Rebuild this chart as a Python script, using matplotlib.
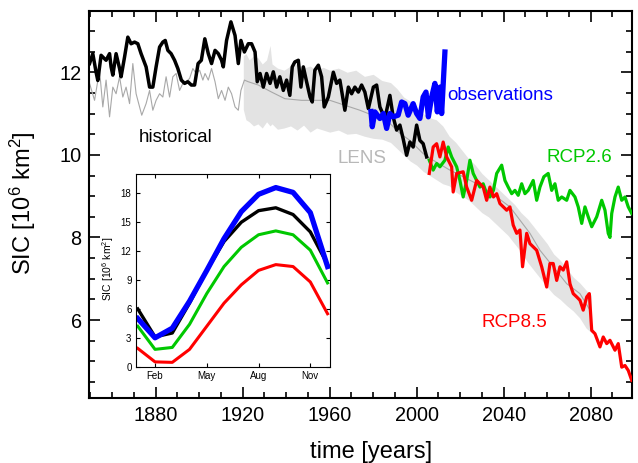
import matplotlib
matplotlib.use('Agg')
import matplotlib.pyplot as plt
from matplotlib.ticker import MultipleLocator, FixedLocator

plt.rcParams['font.family'] = ['Liberation Sans', 'DejaVu Sans']
plt.rcParams['mathtext.fontset'] = 'custom'
plt.rcParams['mathtext.rm'] = 'Liberation Sans'
plt.rcParams['mathtext.it'] = 'Liberation Sans:italic'
plt.rcParams['mathtext.bf'] = 'Liberation Sans:bold'

# ---------------- data ----------------
hist_years = [1849.6, 1851.1, 1852.6, 1853.4, 1854.9, 1857.2, 1858.8, 1859.5, 1860.3, 1861.8,
              1863.4, 1864.1, 1865.7, 1867.2, 1868.7, 1870.3, 1871.8, 1873.3, 1875.6, 1877.2,
              1878.7, 1880.2, 1881.8, 1883.3, 1884.4, 1885.6, 1887.1, 1888.7, 1890.2, 1891.8,
              1893.3, 1894.8, 1896.4, 1897.9, 1899.5, 1901.0, 1902.6, 1904.2, 1905.7, 1907.3,
              1908.8, 1910.3, 1911.1, 1912.6, 1914.6, 1916.5, 1918.0, 1919.2, 1920.8, 1922.6,
              1924.1, 1925.7, 1926.7, 1928.0, 1929.5, 1931.0, 1932.6, 1934.1, 1935.6, 1937.1,
              1938.7, 1940.2, 1941.7, 1942.8, 1944.0, 1945.6, 1946.8, 1947.9, 1949.4, 1951.0,
              1952.0, 1953.2, 1954.8, 1956.3, 1957.5, 1959.4, 1961.7, 1963.2, 1964.7, 1967.0,
              1968.6, 1970.1, 1971.6, 1973.2, 1974.7, 1976.2, 1977.8, 1980.1, 1981.6, 1983.1,
              1985.4, 1987.7, 1989.2, 1990.8, 1992.3, 1993.8, 1995.4, 1996.9, 1998.4, 2000.0,
              2001.5, 2003.0, 2004.6]
hist_sic = [12.21, 12.45, 12.00, 11.80, 12.41, 12.29, 12.45, 12.13, 11.93, 12.45,
            12.09, 11.89, 12.37, 12.85, 12.69, 12.73, 12.69, 12.45, 12.13, 11.64,
            11.64, 12.13, 12.61, 12.73, 12.77, 12.53, 12.45, 12.29, 12.09, 11.81,
            11.73, 11.77, 11.69, 11.69, 12.21, 12.29, 12.81, 12.45, 12.21, 12.53,
            12.45, 12.29, 12.13, 12.77, 13.22, 12.89, 12.21, 12.77, 12.49, 12.69,
            12.69, 12.49, 11.77, 11.97, 11.64, 11.97, 11.73, 12.01, 11.64, 11.89,
            11.56, 11.81, 11.44, 12.13, 12.25, 12.29, 11.64, 12.13, 11.77, 11.40,
            11.28, 12.05, 12.17, 11.89, 11.16, 11.40, 12.00, 11.73, 11.81, 11.08,
            11.64, 11.48, 11.64, 11.52, 11.69, 11.52, 11.12, 11.64, 11.69, 11.16,
            10.88, 11.44, 10.92, 10.60, 10.72, 10.39, 9.99, 10.31, 10.19, 10.72,
            10.35, 10.27, 9.95]

obs_years = [1979.0, 1979.6, 1980.8, 1983.1, 1984.7, 1986.2, 1987.7, 1989.2, 1991.5, 1993.1,
             1994.6, 1996.1, 1998.4, 2000.0, 2001.5, 2003.0, 2004.3, 2005.4, 2006.9, 2008.4,
             2009.5, 2010.7, 2011.5, 2013.0]
obs_sic = [11.05, 10.68, 11.04, 10.88, 11.00, 10.64, 11.00, 10.92, 10.96, 11.28,
           11.24, 10.96, 11.24, 11.00, 10.88, 11.40, 11.52, 10.92, 11.40, 11.73,
           11.04, 11.64, 11.00, 12.49]

lens_years = [1849.6, 1851.9, 1854.2, 1855.7, 1857.2, 1858.8, 1860.3, 1861.8, 1863.4, 1864.9,
              1866.4, 1868.0, 1869.5, 1871.0, 1872.6, 1873.6, 1875.6, 1877.2, 1878.7, 1880.2,
              1881.8, 1883.3, 1884.8, 1886.4, 1887.9, 1889.4, 1891.0, 1892.5, 1894.0, 1895.6,
              1897.1, 1898.6, 1900.2, 1901.7, 1902.7, 1904.2, 1905.7, 1907.3, 1908.8, 1910.3,
              1911.9, 1913.4, 1914.9, 1916.5, 1918.0, 1919.2, 1920.8, 1922.6, 1927.2, 1933.3,
              1939.4, 1947.1, 1954.8, 1960.1, 1967.0, 1973.9, 1981.6, 1986.2, 1992.3, 1996.9,
              2003.0, 2007.6, 2015.3, 2021.4, 2029.1, 2036.8, 2042.9, 2047.5, 2052.1, 2056.7,
              2062.8, 2069.0, 2075.1, 2079.7]
lens_sic = [11.73, 11.32, 12.05, 11.16, 11.81, 10.92, 11.64, 11.48, 11.89, 11.40,
            11.64, 11.24, 12.21, 11.48, 11.16, 10.96, 11.24, 11.56, 11.08, 11.32,
            11.48, 11.40, 11.89, 11.40, 11.89, 11.97, 11.56, 11.73, 11.77, 11.85,
            12.09, 11.97, 12.05, 11.81, 11.97, 11.81, 12.09, 11.77, 11.36, 11.56,
            11.32, 11.64, 11.48, 11.16, 11.08, 11.56, 11.81, 11.77, 11.69, 11.52,
            11.36, 11.32, 11.32, 11.32, 11.20, 11.08, 10.92, 10.84, 10.52, 10.35,
            10.03, 9.87, 9.63, 9.47, 9.26, 8.98, 8.74, 8.42, 8.10, 7.69,
            7.29, 6.88, 6.64, 6.24]

band_years = [1920.3, 1921.5, 1923, 1925, 1927, 1929, 1931, 1932.6, 1933.5, 1936,
              1939, 1942, 1945, 1948, 1951, 1954, 1957, 1960, 1964, 1968,
              1972, 1976, 1980, 1984, 1988, 1991, 1994, 1997, 2000, 2003,
              2006, 2009, 2012, 2015, 2018, 2021, 2024, 2027, 2030, 2033,
              2036, 2039, 2042, 2045, 2048, 2051, 2054, 2057, 2060, 2063,
              2066, 2069, 2072, 2075, 2078, 2080.3]
band_lo = [11.10, 10.85, 10.80, 10.70, 10.75, 10.65, 10.80, 10.70, 10.75, 10.62,
           10.65, 10.70, 10.60, 10.72, 10.55, 10.65, 10.60, 10.55, 10.60, 10.50,
           10.52, 10.45, 10.40, 10.38, 10.30, 10.15, 10.00, 9.85, 9.75, 9.60,
           9.50, 9.40, 9.30, 9.25, 9.10, 9.00, 8.90, 8.75, 8.60, 8.50,
           8.35, 8.20, 8.05, 7.85, 7.65, 7.40, 7.20, 7.00, 6.80, 6.62,
           6.50, 6.35, 6.22, 6.05, 5.80, 5.70]
band_hi = [12.40, 12.45, 12.30, 12.40, 12.35, 12.20, 12.30, 12.65, 12.20, 12.10,
           12.05, 12.15, 12.20, 12.10, 12.15, 12.05, 12.12, 12.05, 12.10, 12.00,
           12.05, 11.90, 11.95, 11.80, 11.75, 11.60, 11.40, 11.30, 11.15, 11.00,
           10.90, 10.85, 10.70, 10.45, 10.30, 10.10, 9.90, 9.75, 9.55, 9.40,
           9.25, 9.10, 8.95, 8.80, 8.60, 8.45, 8.25, 8.05, 7.85, 7.60,
           7.45, 7.25, 7.04, 6.90, 6.72, 6.60]

rcp85_years = [2005.8, 2007.6, 2009.2, 2010.7, 2012.2, 2013.8, 2016.1, 2016.8, 2018.4, 2021.4,
               2023.0, 2025.3, 2027.6, 2029.1, 2030.6, 2032.2, 2033.7, 2035.3, 2036.8, 2038.3,
               2041.4, 2042.9, 2044.4, 2046.0, 2047.5, 2048.7, 2050.6, 2052.1, 2055.2, 2057.5,
               2059.8, 2061.3, 2062.8, 2064.4, 2065.9, 2067.4, 2069.0, 2070.5, 2072.0, 2073.6,
               2075.1, 2076.6, 2078.2, 2079.4, 2080.5, 2082.0, 2084.3, 2085.8, 2087.4, 2088.9,
               2091.2, 2092.7, 2094.3, 2095.8, 2097.3, 2098.9]
rcp85_sic = [9.55, 10.19, 10.27, 9.95, 10.31, 9.95, 9.71, 9.10, 9.55, 9.59,
             9.22, 8.90, 9.38, 9.30, 9.22, 8.90, 9.22, 8.98, 9.06, 8.82,
             8.66, 8.74, 8.30, 8.10, 8.18, 7.29, 8.10, 7.85, 7.69, 7.29,
             6.80, 7.37, 7.37, 6.96, 7.29, 7.21, 7.41, 6.88, 6.64, 6.56,
             6.48, 6.24, 6.56, 6.64, 5.75, 5.67, 5.35, 5.59, 5.43, 5.51,
             5.27, 5.43, 4.86, 4.90, 4.78, 4.54]

rcp26_years = [2005.8, 2007.6, 2009.2, 2010.7, 2013.0, 2014.5, 2016.1, 2018.4, 2019.9, 2021.4,
               2023.0, 2024.5, 2026.0, 2027.6, 2029.1, 2030.6, 2032.2, 2033.7, 2035.3, 2036.8,
               2039.1, 2040.6, 2042.1, 2043.7, 2045.2, 2046.7, 2048.3, 2049.8, 2051.3, 2053.6,
               2055.2, 2056.7, 2058.5, 2060.5, 2062.1, 2063.6, 2065.1, 2066.7, 2069.0, 2070.5,
               2072.8, 2074.3, 2075.9, 2077.4, 2078.9, 2080.5, 2082.8, 2085.1, 2086.6, 2088.1,
               2088.9, 2089.7, 2091.2, 2092.7, 2094.3, 2095.8, 2097.3, 2098.9]
rcp26_sic = [9.87, 9.63, 9.79, 9.71, 9.87, 10.19, 9.95, 9.71, 9.38, 8.98,
             9.38, 9.87, 9.55, 9.38, 9.22, 9.30, 9.06, 8.98, 9.14, 9.55,
             9.75, 9.38, 9.22, 9.06, 9.14, 9.02, 9.30, 9.06, 9.14, 9.38,
             8.90, 9.22, 9.47, 9.55, 9.14, 9.30, 8.90, 8.98, 8.90, 9.14,
             8.98, 8.74, 8.34, 8.74, 8.50, 8.26, 8.50, 8.90, 8.66, 8.10,
             8.00, 8.58, 8.98, 9.22, 8.90, 8.98, 8.74, 8.58]

months = [1, 2, 3, 4, 5, 6, 7, 8, 9, 10, 11, 12]
clim_obs = [5.0, 3.0, 4.0, 6.8, 10.0, 13.3, 16.1, 17.9, 18.6, 18.1, 16.0, 10.4]
clim_hist = [6.0, 3.1, 3.5, 6.6, 10.0, 13.0, 15.0, 16.2, 16.5, 15.8, 14.0, 10.6]
clim_rcp26 = [4.2, 1.8, 2.0, 4.4, 7.6, 10.4, 12.4, 13.7, 14.1, 13.7, 12.1, 8.7]
clim_rcp85 = [1.9, 0.5, 0.45, 1.8, 4.2, 6.6, 8.5, 10.0, 10.6, 10.4, 8.8, 5.5]
month_ticks = [2, 5, 8, 11]
month_labels = ['Feb', 'May', 'Aug', 'Nov']

GREEN = '#00C800'

# ---------------- figure ----------------
fig = plt.figure(figsize=(6.38, 4.63), dpi=100)
ax = fig.add_axes([0.139, 0.141, 0.851, 0.835])

ax.fill_between(band_years, band_lo, band_hi, color='#E3E3E3', lw=0, zorder=1)
ax.plot(lens_years, lens_sic, color='#A8A8A8', lw=0.8, zorder=2)
ax.plot(hist_years, hist_sic, color='black', lw=2.5, zorder=3, solid_joinstyle='round')
ax.plot(rcp26_years, rcp26_sic, color=GREEN, lw=2.3, zorder=4, solid_joinstyle='round')
ax.plot(rcp85_years, rcp85_sic, color='#FF0000', lw=2.3, zorder=5, solid_joinstyle='round')
ax.plot(obs_years, obs_sic, color='#0000FF', lw=3.8, zorder=6, solid_joinstyle='round')

ax.set_xlim(1849.2, 2098.85)
ax.set_ylim(4.12, 13.48)
ax.xaxis.set_major_locator(FixedLocator([1880, 1920, 1960, 2000, 2040, 2080]))
ax.xaxis.set_minor_locator(MultipleLocator(10))
ax.yaxis.set_major_locator(FixedLocator([6, 8, 10, 12]))
ax.yaxis.set_minor_locator(MultipleLocator(0.5))
ax.tick_params(which='both', direction='in', top=True, right=True, width=1.2,
               labelsize=14.3)
ax.tick_params(which='major', length=8)
ax.tick_params(which='minor', length=4)
ax.tick_params(axis='x', pad=6)
ax.tick_params(axis='y', pad=5)
for s in ax.spines.values():
    s.set_linewidth(1.5)

ax.text(1872.4, 10.31, 'historical', color='black', fontsize=13.5, va='baseline')
ax.text(2014.3, 11.32, 'observations', color='#0000FF', fontsize=13.5, va='baseline')
ax.text(1963.5, 9.81, 'LENS', color='#B8B8B8', fontsize=13.5, va='baseline')
ax.text(2059.8, 9.83, 'RCP2.6', color=GREEN, fontsize=13.5, va='baseline')
ax.text(2029.6, 5.83, 'RCP8.5', color='#FF0000', fontsize=13.5, va='baseline')

fig.text(370.8 / 638, 1 - 457.7 / 463, 'time [years]', fontsize=17, ha='center', va='baseline')
ax.set_ylabel('SIC [10$^6$ km$^2$]', fontsize=17)
ax.yaxis.set_label_coords(-0.094, 0.503)

# ---------------- inset ----------------
axi = fig.add_axes([0.2127, 0.208, 0.3045, 0.416], zorder=10)
axi.set_facecolor('white')
axi.plot(months, clim_rcp85, color='#FF0000', lw=2.2)
axi.plot(months, clim_rcp26, color=GREEN, lw=2.2)
axi.plot(months, clim_hist, color='black', lw=2.4)
axi.plot(months, clim_obs, color='#0000FF', lw=3.8)
axi.set_xlim(0.88, 12.14)
axi.set_ylim(0, 20)
axi.set_xticks(month_ticks)
axi.set_xticklabels(month_labels)
axi.set_yticks([0, 3, 6, 9, 12, 15, 18])
axi.tick_params(which='both', direction='in', top=True, right=True, length=3,
                width=0.8, labelsize=7, pad=3)
for s in axi.spines.values():
    s.set_linewidth(0.8)
axi.set_ylabel('SIC [10$^6$ km$^2$]', fontsize=7.5)
axi.yaxis.set_label_coords(-0.1, 0.51)

fig.savefig('out.png', dpi=100)
